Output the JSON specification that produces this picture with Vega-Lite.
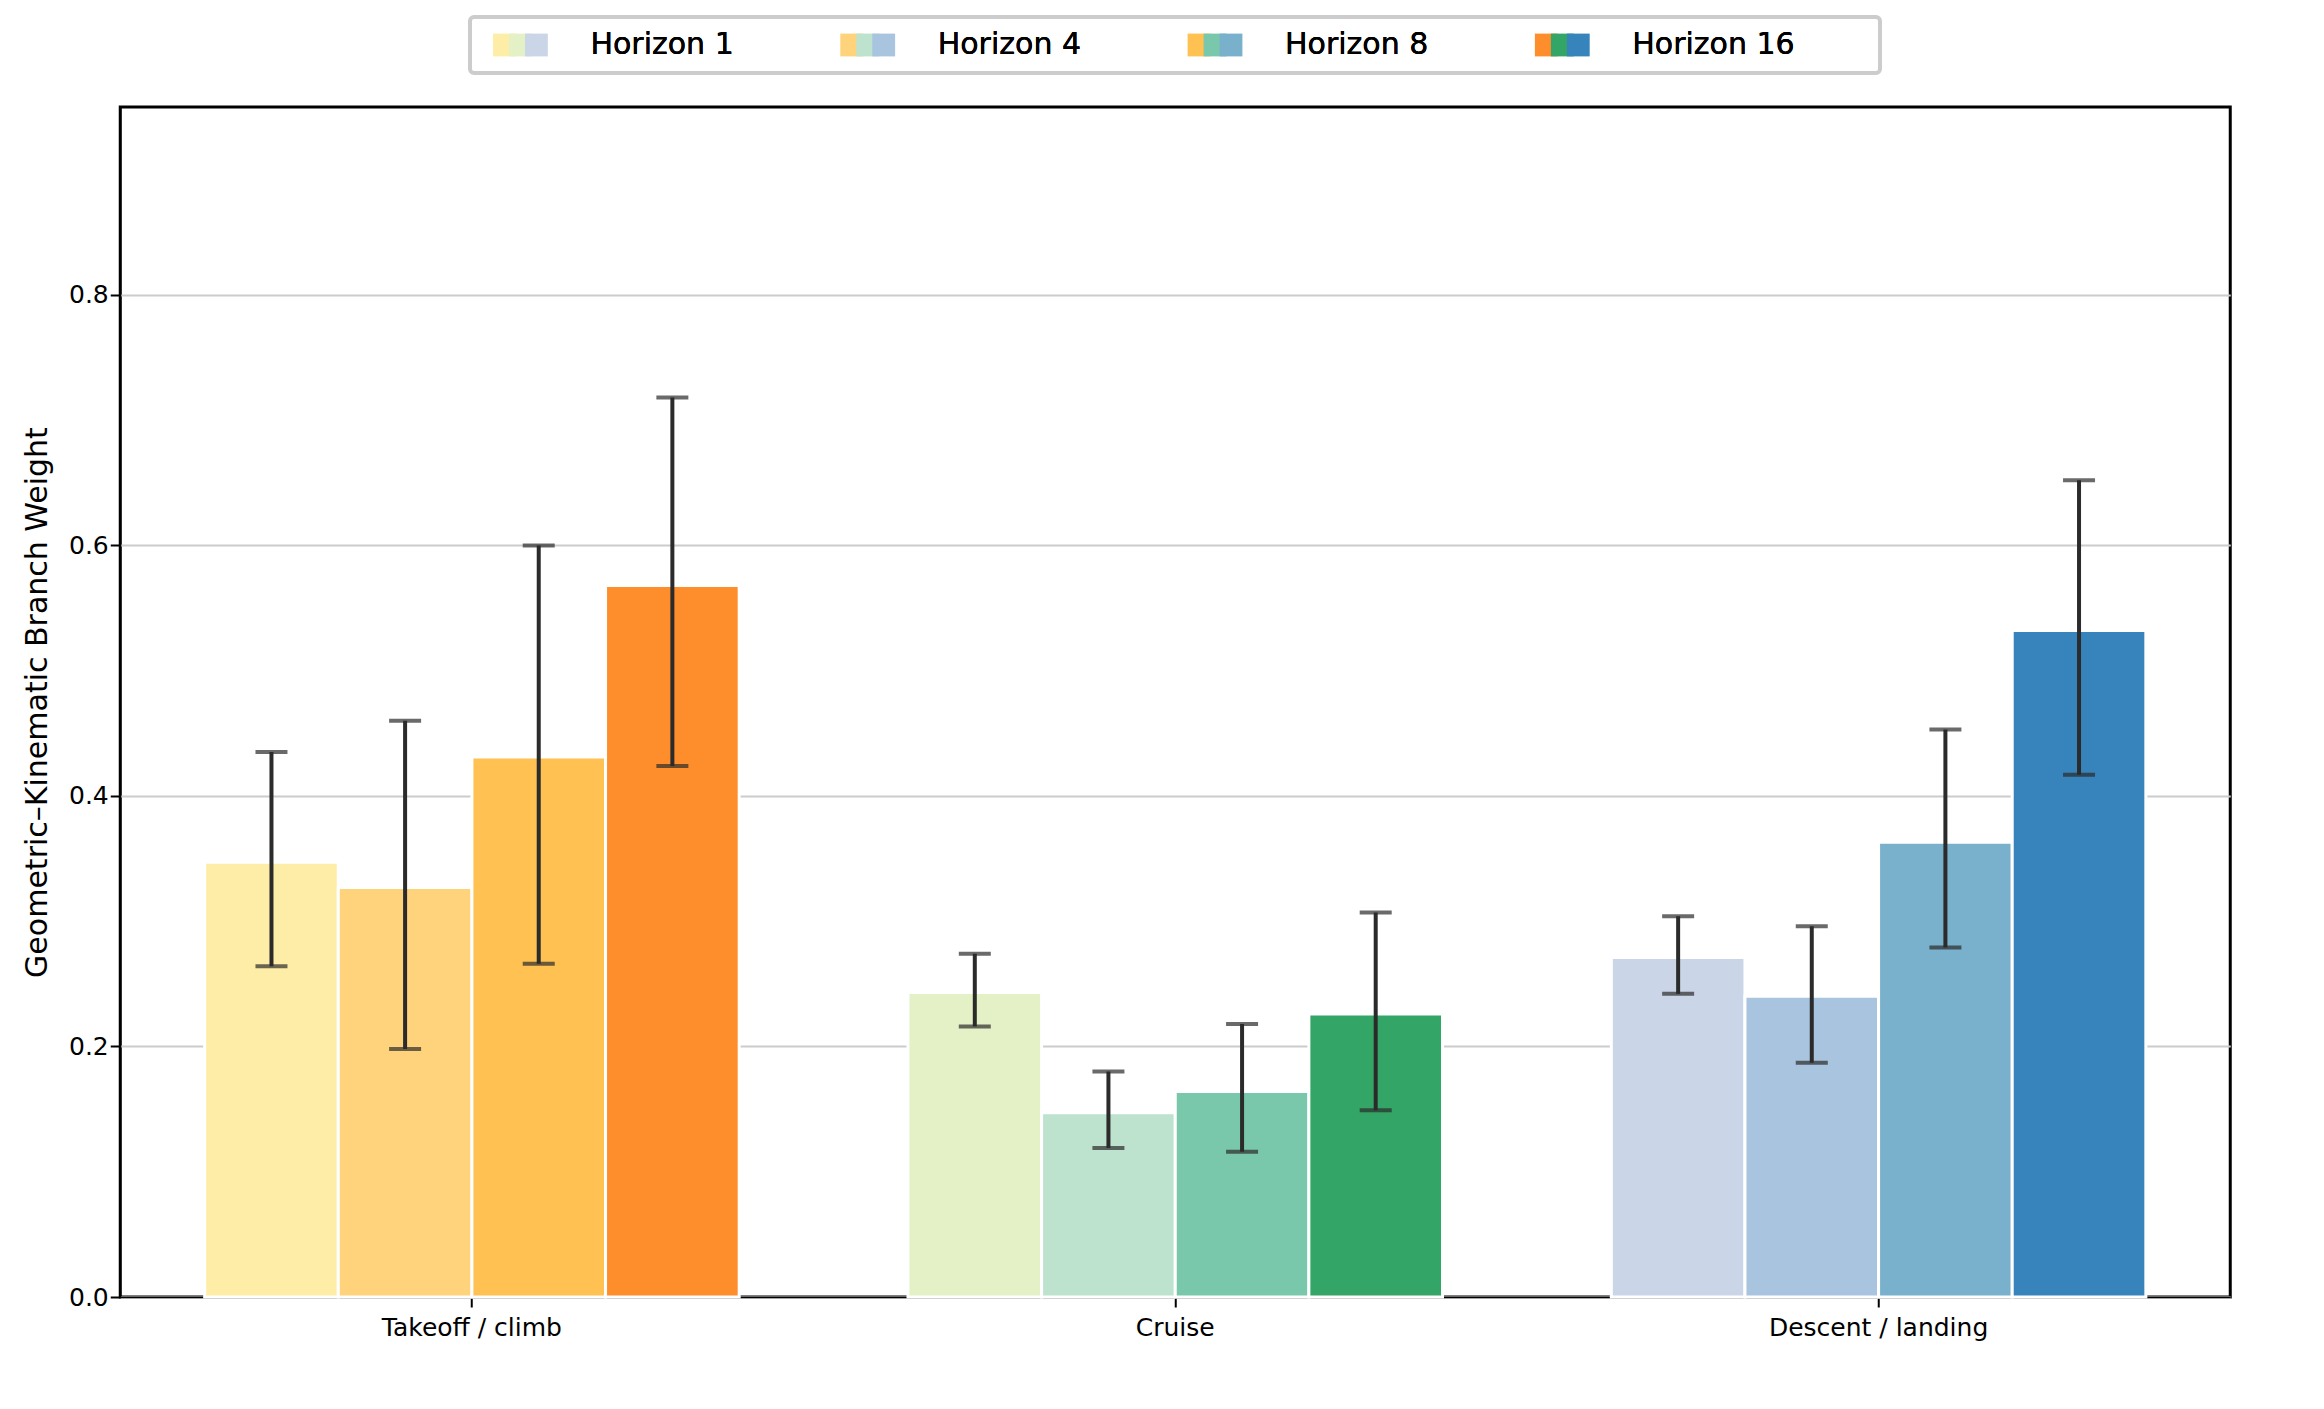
{
  "$schema": "https://vega.github.io/schema/vega-lite/v6.json",
  "config": {
    "font": "DejaVu Sans",
    "axis": {"labelFont": "DejaVu Sans", "titleFont": "DejaVu Sans", "labelFontSize": 25, "titleFontSize": 30, "labelColor": "#000", "titleColor": "#000", "titleFontWeight": "normal", "domainColor": "#000", "tickColor": "#000", "tickSize": 10, "tickWidth": 2, "labelLimit": 0},
    "view": {"stroke": "#000", "strokeWidth": 3}
  },
  "datasets": {
    "bars": [
      {"phase": "Takeoff / climb", "horizon": "Horizon 1", "mean": 0.347, "lo": 0.264, "hi": 0.435, "color": "#FEEDA6"},
      {"phase": "Takeoff / climb", "horizon": "Horizon 4", "mean": 0.327, "lo": 0.198, "hi": 0.460, "color": "#FED37B"},
      {"phase": "Takeoff / climb", "horizon": "Horizon 8", "mean": 0.431, "lo": 0.266, "hi": 0.600, "color": "#FEC152"},
      {"phase": "Takeoff / climb", "horizon": "Horizon 16", "mean": 0.568, "lo": 0.424, "hi": 0.718, "color": "#FE8E2B"},
      {"phase": "Cruise", "horizon": "Horizon 1", "mean": 0.243, "lo": 0.216, "hi": 0.274, "color": "#E4F1C6"},
      {"phase": "Cruise", "horizon": "Horizon 4", "mean": 0.147, "lo": 0.119, "hi": 0.180, "color": "#BDE2CD"},
      {"phase": "Cruise", "horizon": "Horizon 8", "mean": 0.164, "lo": 0.116, "hi": 0.218, "color": "#7AC8AC"},
      {"phase": "Cruise", "horizon": "Horizon 16", "mean": 0.226, "lo": 0.149, "hi": 0.307, "color": "#33A566"},
      {"phase": "Descent / landing", "horizon": "Horizon 1", "mean": 0.271, "lo": 0.242, "hi": 0.304, "color": "#CBD5E8"},
      {"phase": "Descent / landing", "horizon": "Horizon 4", "mean": 0.240, "lo": 0.187, "hi": 0.296, "color": "#A9C4DE"},
      {"phase": "Descent / landing", "horizon": "Horizon 8", "mean": 0.363, "lo": 0.279, "hi": 0.453, "color": "#79B0CC"},
      {"phase": "Descent / landing", "horizon": "Horizon 16", "mean": 0.532, "lo": 0.417, "hi": 0.652, "color": "#3784BC"}
    ]
  },
  "resolve": {"scale": {"x": "independent", "xOffset": "independent", "color": "independent"}},
  "center": true,
  "vconcat": [
    {
      "data": {"name": "bars"},
      "width": 1410,
      "height": 56,
      "view": {"stroke": "#ccc", "strokeWidth": 4, "cornerRadius": 4},
      "layer": [
        {
          "mark": {"type": "square", "size": 520, "opacity": 1},
          "encoding": {
            "x": {"field": "horizon", "type": "nominal", "sort": ["Horizon 1", "Horizon 4", "Horizon 8", "Horizon 16"], "scale": {"paddingInner": 0, "paddingOuter": 0.03}, "axis": null},
            "xOffset": {"field": "phase", "type": "nominal", "sort": ["Takeoff / climb", "Cruise", "Descent / landing"], "scale": {"type": "point", "range": [16, 64]}},
            "color": {"field": "color", "type": "nominal", "scale": null}
          }
        },
        {
          "mark": {"type": "text", "align": "left", "dx": 110, "fontSize": 30, "color": "#000"},
          "encoding": {
            "x": {"field": "horizon", "type": "nominal", "sort": ["Horizon 1", "Horizon 4", "Horizon 8", "Horizon 16"], "bandPosition": 0},
            "text": {"field": "horizon"}
          }
        }
      ]
    },
    {
      "data": {"name": "bars"},
      "width": 2110,
      "height": 1190,
      "encoding": {
        "x": {"field": "phase", "type": "nominal", "sort": ["Takeoff / climb", "Cruise", "Descent / landing"], "title": null, "scale": {"paddingInner": 0.24, "paddingOuter": 0.12}, "axis": {"labelAngle": 0, "labelPadding": 8}},
        "xOffset": {"field": "horizon", "type": "nominal", "sort": ["Horizon 1", "Horizon 4", "Horizon 8", "Horizon 16"]}
      },
      "layer": [
        {
          "mark": {"type": "bar", "stroke": "#fff", "strokeWidth": 3},
          "encoding": {
            "y": {"field": "mean", "type": "quantitative", "title": "Geometric–Kinematic Branch Weight", "scale": {"domain": [0, 0.95], "nice": false}, "axis": {"values": [0, 0.2, 0.4, 0.6, 0.8], "format": ".1f", "grid": true, "gridColor": "#ccc", "gridWidth": 2, "titlePadding": 16}},
            "color": {"field": "color", "type": "nominal", "scale": null}
          }
        },
        {
          "mark": {"type": "rule", "color": "#2b2b2b", "strokeWidth": 4},
          "encoding": {"y": {"field": "lo", "type": "quantitative"}, "y2": {"field": "hi"}}
        },
        {
          "mark": {"type": "tick", "orient": "horizontal", "color": "#2b2b2b", "thickness": 4, "size": 32},
          "encoding": {"y": {"field": "lo", "type": "quantitative"}}
        },
        {
          "mark": {"type": "tick", "orient": "horizontal", "color": "#2b2b2b", "thickness": 4, "size": 32},
          "encoding": {"y": {"field": "hi", "type": "quantitative"}}
        }
      ]
    }
  ],
  "spacing": 30,
  "padding": {"left": 20, "top": 15, "right": 10, "bottom": 10}
}
